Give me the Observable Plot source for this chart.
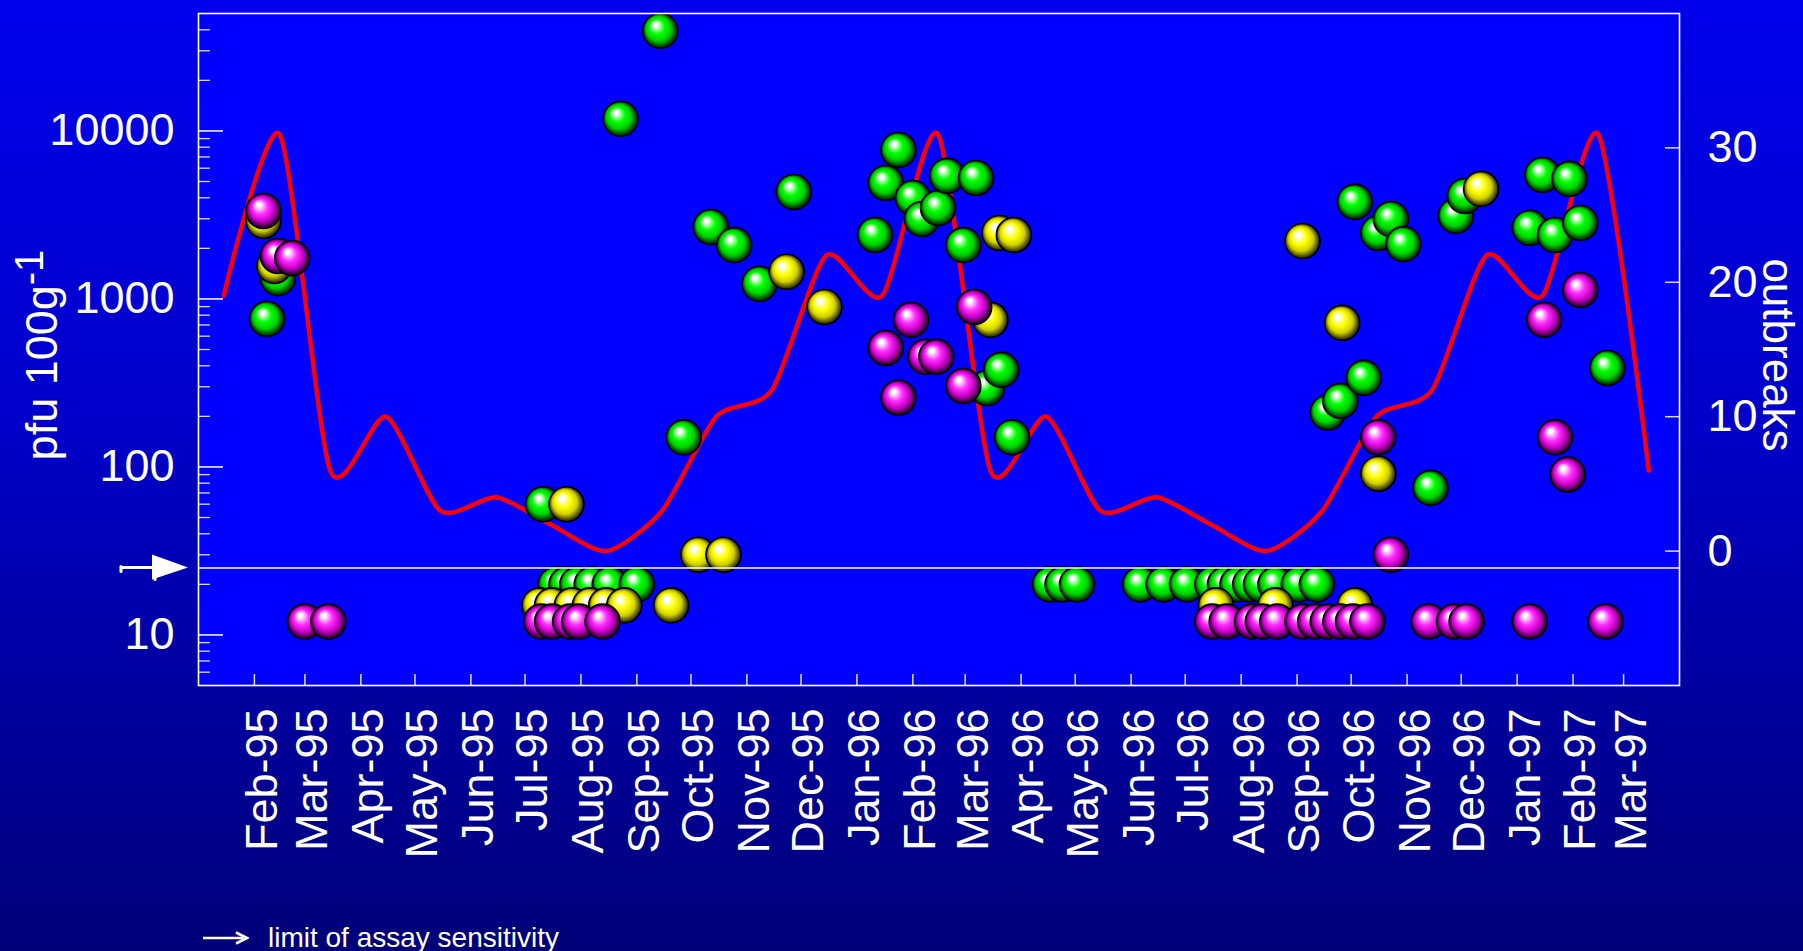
<!DOCTYPE html>
<html>
<head>
<meta charset="utf-8">
<script src="https://cdn.jsdelivr.net/npm/d3@7"></script>
<script src="https://cdn.jsdelivr.net/npm/@observablehq/plot@0.6"></script>
<style>
  html, body { margin: 0; padding: 0; }
  body {
    width: 1803px; height: 951px; overflow: hidden;
    background: linear-gradient(to bottom, #0000ec 0%, #0000c8 45%, #000078 100%);
    font-family: "Liberation Sans", Arial, sans-serif;
    color: white;
  }
  #chart svg { display: block; }
  #note { position: relative; height: 36px; }
  #note svg { position: absolute; left: 203px; top: 16px; }
  #note span { position: absolute; left: 268px; top: 9px; font-size: 28px; line-height: 28px; white-space: nowrap; }
</style>
</head>
<body>
<div id="chart"></div>
<div id="note">
  <svg width="46" height="14" viewBox="0 0 46 14"><path d="M0,7H40" stroke="white" stroke-width="2.6"/><path d="M33,1.5L44,7L33,12.5" fill="none" stroke="white" stroke-width="2.6" stroke-linejoin="miter"/></svg>
  <span>limit of assay sensitivity</span>
</div>
<script>
// Virus counts per sample, pfu 100g-1, by sampling site.
// Samples below the assay limit are plotted on fixed rows: 20 (site A), 15 (site B), 12 (site C).
const siteA = [ // green
  ["1995-02-08", 760], ["1995-02-14", 1330], ["1995-07-11", 60],
  ["1995-07-18", 20], ["1995-07-24", 20], ["1995-07-30", 20], ["1995-08-07", 20], ["1995-08-17", 20],
  ["1995-08-23", 11800], ["1995-09-01", 20], ["1995-09-14", 39400], ["1995-09-27", 150],
  ["1995-10-12", 2680], ["1995-10-25", 2090], ["1995-11-08", 1230], ["1995-11-27", 4330],
  ["1996-01-11", 2400], ["1996-01-17", 4900], ["1996-01-24", 7700], ["1996-02-01", 3990],
  ["1996-02-06", 2990], ["1996-02-15", 3480], ["1996-02-20", 5400], ["1996-02-29", 2090],
  ["1996-03-07", 5250], ["1996-03-13", 295], ["1996-03-21", 378], ["1996-03-27", 150],
  ["1996-04-17", 20], ["1996-04-24", 20], ["1996-05-02", 20], ["1996-06-06", 20], ["1996-06-19", 20],
  ["1996-07-02", 20], ["1996-07-16", 20], ["1996-07-23", 20], ["1996-07-30", 20], ["1996-08-06", 20],
  ["1996-08-12", 20], ["1996-08-20", 20], ["1996-09-02", 20], ["1996-09-12", 20],
  ["1996-09-18", 211], ["1996-09-25", 247], ["1996-10-03", 3780], ["1996-10-08", 339],
  ["1996-10-16", 2470], ["1996-10-23", 2990], ["1996-10-30", 2120], ["1996-11-14", 75],
  ["1996-11-28", 3120], ["1996-12-03", 4100],
  ["1997-01-08", 2650], ["1997-01-15", 5470], ["1997-01-22", 2400], ["1997-01-30", 5180],
  ["1997-02-05", 2830], ["1997-02-20", 388]
];
const siteB = [ // yellow
  ["1995-02-06", 2910], ["1995-02-12", 1570],
  ["1995-07-09", 15], ["1995-07-16", 15], ["1995-07-24", 60], ["1995-07-27", 15], ["1995-08-06", 15],
  ["1995-08-15", 15], ["1995-08-25", 15], ["1995-09-20", 15], ["1995-10-05", 30], ["1995-10-19", 30],
  ["1995-11-23", 1450], ["1995-12-14", 896],
  ["1996-03-15", 750], ["1996-03-20", 2470], ["1996-03-28", 2400],
  ["1996-07-18", 15], ["1996-08-20", 15], ["1996-09-04", 2210], ["1996-09-26", 720],
  ["1996-10-03", 15], ["1996-10-16", 91], ["1996-12-12", 4520]
];
const siteC = [ // magenta
  ["1995-02-06", 3340], ["1995-02-14", 1800], ["1995-02-22", 1750], ["1995-03-01", 12], ["1995-03-14", 12],
  ["1995-07-10", 12], ["1995-07-16", 12], ["1995-07-26", 12], ["1995-07-31", 12], ["1995-08-13", 12],
  ["1996-01-17", 510], ["1996-01-24", 258], ["1996-01-31", 750], ["1996-02-08", 452], ["1996-02-14", 452],
  ["1996-02-29", 303], ["1996-03-06", 896],
  ["1996-07-16", 12], ["1996-07-24", 12], ["1996-08-07", 12], ["1996-08-13", 12], ["1996-08-21", 12],
  ["1996-09-04", 12], ["1996-09-11", 12], ["1996-09-18", 12], ["1996-09-25", 12], ["1996-10-02", 12],
  ["1996-10-10", 12], ["1996-10-16", 150], ["1996-10-23", 30], ["1996-11-13", 12], ["1996-11-27", 12],
  ["1996-12-04", 12], ["1997-01-08", 12], ["1997-01-16", 750], ["1997-01-22", 150], ["1997-01-29", 90],
  ["1997-02-05", 1130], ["1997-02-19", 12]
];

// Monthly outbreak counts (right axis), plotted at mid-month.
const outbreakMonths = [
  "1995-01-15", "1995-02-15", "1995-03-15", "1995-04-15", "1995-05-15", "1995-06-15",
  "1995-07-15", "1995-08-15", "1995-09-15", "1995-10-15", "1995-11-15", "1995-12-15",
  "1996-01-15", "1996-02-15", "1996-03-15", "1996-04-15", "1996-05-15", "1996-06-15",
  "1996-07-15", "1996-08-15", "1996-09-15", "1996-10-15", "1996-11-15", "1996-12-15",
  "1997-01-15", "1997-02-15", "1997-03-15"
];
const outbreakCounts = [
  19, 31, 6, 10, 3, 4, 2, 0, 3, 10, 12, 22,
  19, 31, 6, 10, 3, 4, 2, 0, 3, 10, 12, 22,
  19, 31, 6
];

const monthLabels = [
  "Feb-95", "Mar-95", "Apr-95", "May-95", "Jun-95", "Jul-95", "Aug-95", "Sep-95", "Oct-95",
  "Nov-95", "Dec-95", "Jan-96", "Feb-96", "Mar-96", "Apr-96", "May-96", "Jun-96", "Jul-96",
  "Aug-96", "Sep-96", "Oct-96", "Nov-96", "Dec-96", "Jan-97", "Feb-97", "Mar-97"
];
const pfuTicks = [10, 100, 1000, 10000];
const outbreakTicks = [0, 10, 20, 30];
const assayLimit = 25;

const timeDomain = [new Date("1995-01-01"), new Date("1997-04-01")];
const pfuDomain = [5, 50000];
const outbreakDomain = [-10, 40];

// Outbreak counts share the frame with the log pfu axis: map the linear count range onto it.
const outbreakToLog = d3.scaleLinear().domain(outbreakDomain).range(pfuDomain.map(Math.log10));
const asPfu = (v) => 10 ** outbreakToLog(v);

const parseMonth = d3.utcParse("%b-%y");
const monthTicks = monthLabels.map(parseMonth);
const minorPfuTicks = [1, 10, 100, 1000, 10000]
  .flatMap((decade) => d3.range(2, 10).map((k) => k * decade))
  .filter((v) => v > pfuDomain[0] && v < pfuDomain[1]);

const W = 1803, H = 915;
const mL = 198, mR = 124, mT = 13, mB = 230;
const frameW = W - mL - mR, frameH = H - mT - mB;
const font = "'Liberation Sans', Arial, sans-serif";

const ball = (fill) => ({
  x: (d) => new Date(d[0]), y: (d) => d[1], r: 17.5,
  fill, stroke: "#000", strokeWidth: 1.6
});

const plot = Plot.plot({
  width: W, height: H,
  marginLeft: mL, marginRight: mR, marginTop: mT, marginBottom: mB,
  style: { background: "transparent", color: "white", fontFamily: font, overflow: "visible" },
  x: { type: "utc", domain: timeDomain },
  y: { type: "log", domain: pfuDomain },
  marks: [
    Plot.frame({ fill: "#0000ff", stroke: null }),
    // inward tick marks
    Plot.ruleY(pfuTicks, { stroke: "white", strokeWidth: 1.5, insetRight: frameW - 25 }),
    Plot.ruleY(minorPfuTicks, { stroke: "#dcdcff", strokeWidth: 1.3, insetRight: frameW - 12 }),
    Plot.ruleY(outbreakTicks, { y: asPfu, stroke: "#dcdcff", strokeWidth: 1.5, insetLeft: frameW - 14 }),
    Plot.ruleX(monthTicks, { stroke: "#dcdcff", strokeWidth: 1.5, insetTop: frameH - 11 }),
    // outbreaks
    Plot.line(outbreakMonths, {
      x: (d) => new Date(d), y: (d, i) => asPfu(outbreakCounts[i]),
      curve: "cardinal", tension: 0.3, stroke: "#ff0000", strokeWidth: 4.5
    }),
    // samples
    Plot.dot(siteA, ball("url(#ball-green)")),
    Plot.dot(siteB, ball("url(#ball-yellow)")),
    Plot.dot(siteC, ball("url(#ball-magenta)")),
    // limit of assay sensitivity
    Plot.ruleY([assayLimit], { stroke: "white", strokeWidth: 1.6 }),
    Plot.frame({ stroke: "white", strokeWidth: 1.6 }),
    Plot.axisY({
      ticks: pfuTicks, tickFormat: (d) => String(d), tickSize: 0, tickPadding: 24,
      fontSize: 45, label: null
    }),
    Plot.axisX({
      ticks: monthTicks, tickFormat: d3.utcFormat("%b-%y"), tickSize: 0, tickPadding: 23,
      tickRotate: -90, dx: 8, fontSize: 45, label: null
    }),
    Plot.text(outbreakTicks, {
      y: asPfu, text: (d) => String(d), frameAnchor: "right",
      textAnchor: "start", dx: 28, fontSize: 45, fill: "white"
    })
  ]
});

// shaded sphere fills
const svg = d3.select(plot);
const defs = svg.insert("defs", ":first-child");
const gradients = [
  ["ball-green", ["#ffffff", "#00ff00", "#00d000", "#004c00", "#000e00"]],
  ["ball-yellow", ["#ffffff", "#ffff00", "#d0d000", "#4e4e00", "#0e0e00"]],
  ["ball-magenta", ["#ffffff", "#ff2cff", "#cc00cc", "#4c004c", "#0e000e"]]
];
for (const [id, c] of gradients) {
  const g = defs.append("radialGradient").attr("id", id)
    .attr("cx", "50%").attr("cy", "50%").attr("r", "52%")
    .attr("fx", "34%").attr("fy", "30%");
  [[0, c[0]], [0.12, c[0]], [0.42, c[1]], [0.68, c[2]], [0.88, c[3]], [1, c[4]]]
    .forEach(([o, col]) => g.append("stop").attr("offset", o).attr("stop-color", col));
}

// arrow marking the limit of assay sensitivity on the left axis
const yLimit = plot.scale("y").apply(assayLimit);
const arrow = svg.append("g").attr("fill", "white").attr("stroke", "white");
arrow.append("path").attr("d", `M${mL - 77},${yLimit} H${mL - 42}`).attr("stroke-width", 3);
arrow.append("path").attr("d", `M${mL - 77},${yLimit - 1} V${yLimit + 4}`).attr("stroke-width", 3).attr("stroke-linecap", "round");
arrow.append("path").attr("d", `M${mL - 43},${yLimit} V${yLimit + 12}`).attr("stroke-width", 3).attr("stroke-linecap", "round");
arrow.append("path").attr("d", `M${mL - 46},${yLimit - 13} L${mL - 10},${yLimit} L${mL - 46},${yLimit + 12} Z`).attr("stroke", "none");

// axis titles
const leftTitle = svg.append("text")
  .attr("transform", `translate(57,355) rotate(-90)`)
  .attr("text-anchor", "middle").attr("fill", "white")
  .attr("font-family", font).attr("font-size", 45);
leftTitle.append("tspan").text("pfu 100g");
leftTitle.append("tspan").attr("dy", -14).attr("font-size", 40).text("-1");

svg.append("text")
  .attr("transform", `translate(1763,355) rotate(90)`)
  .attr("text-anchor", "middle").attr("fill", "white")
  .attr("font-family", font).attr("font-size", 44)
  .text("outbreaks");

document.getElementById("chart").append(plot);
</script>
</body>
</html>
